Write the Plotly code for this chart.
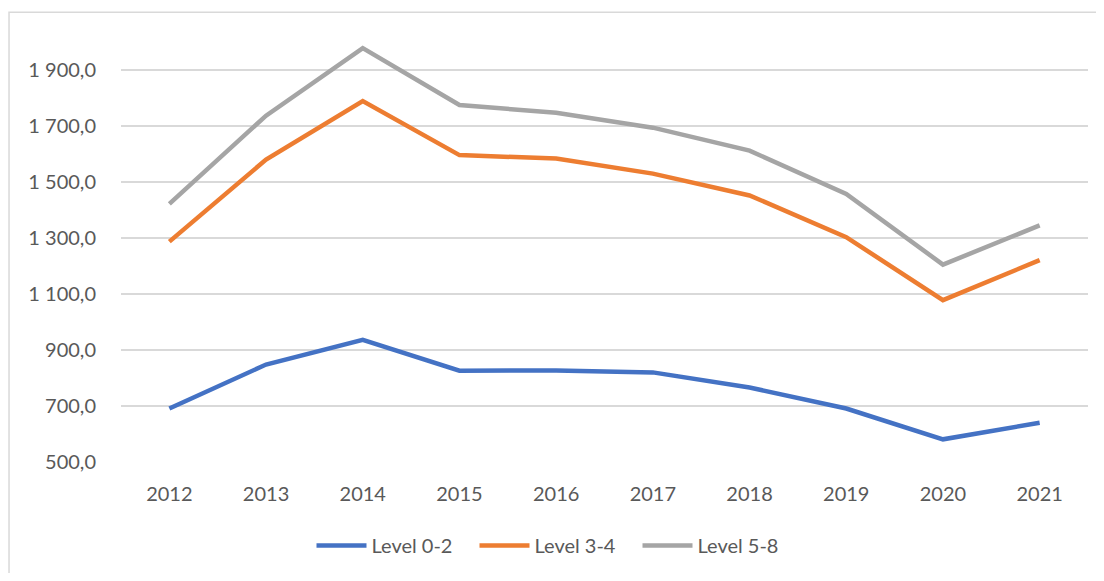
import plotly.graph_objects as go

years = ['2012', '2013', '2014', '2015', '2016', '2017', '2018', '2019', '2020', '2021']
level_0_2 = [691, 848, 936, 826, 827, 820, 766, 691, 581, 640]
level_3_4 = [1287, 1580, 1789, 1596, 1584, 1530, 1452, 1303, 1078, 1221]
level_5_8 = [1422, 1737, 1978, 1775, 1747, 1694, 1612, 1457, 1205, 1345]

y_ticks = [500, 700, 900, 1100, 1300, 1500, 1700, 1900]
y_labels = ['500,0', '700,0', '900,0', '1 100,0', '1 300,0', '1 500,0', '1 700,0', '1 900,0']

BLUE = '#4472C4'
ORANGE = '#ED7D31'
GREY = '#A5A5A5'

fig = go.Figure()
for name, vals, col in [('Level 0-2', level_0_2, BLUE),
                        ('Level 3-4', level_3_4, ORANGE),
                        ('Level 5-8', level_5_8, GREY)]:
    fig.add_trace(go.Scatter(
        x=years, y=vals, name=name, mode='lines',
        line=dict(color=col, width=4.5),
    ))

# chart border like the spreadsheet frame
fig.add_shape(type='rect', xref='paper', yref='paper',
              x0=-0.1158, x1=1.1, y0=-0.5, y1=1.071,
              line=dict(color='#D9D9D9', width=1.5), layer='below')

# page body has an 8px margin, so the figure is sized to fit the window
fig.update_layout(
    width=1088, height=565,
    paper_bgcolor='white', plot_bgcolor='white',
    font=dict(family='Lato, "Open Sans", sans-serif', size=20, color='#595959'),
    margin=dict(l=113, r=8, t=34, b=108),
    showlegend=True,
    legend=dict(orientation='h', x=0.197, xanchor='left', y=-0.199, yanchor='middle',
                font=dict(size=20, color='#595959'), itemwidth=50,
                entrywidth=98, entrywidthmode='pixels',
                traceorder='normal'),
    xaxis=dict(
        showgrid=False, zeroline=False, showline=False,
        ticks='outside', ticklen=14, tickcolor='rgba(0,0,0,0)',
        range=[-0.5, 9.5],
    ),
    yaxis=dict(
        range=[500, 2000],
        tickvals=y_ticks, ticktext=y_labels,
        showgrid=True, gridcolor='#D9D9D9', gridwidth=1.5,
        zeroline=False, showline=False,
        ticks='outside', ticklen=20, tickcolor='rgba(0,0,0,0)',
    ),
)

fig.write_html('out.html')
